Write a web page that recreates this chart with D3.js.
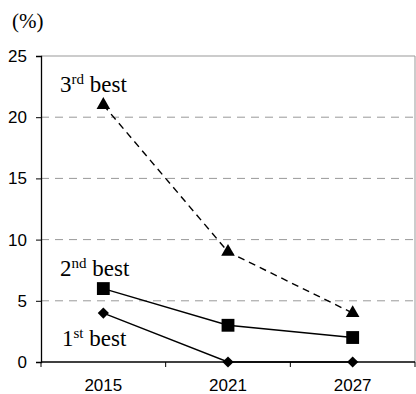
<!DOCTYPE html>
<html>
<head>
<meta charset="utf-8">
<script src="https://cdn.jsdelivr.net/npm/d3@7"></script>
<style>
  html, body { margin: 0; padding: 0; background: #fff; }
  svg { display: block; }
  .serif { font-family: "Liberation Serif", "Times New Roman", Times, serif; }
  .sans { font-family: "Liberation Sans", Arial, Helvetica, sans-serif; }
</style>
</head>
<body>
<svg id="chart" width="416" height="394"></svg>
<script>
// Forecast categories and series (percent)
const years = ["2015", "2021", "2027"];
const firstBest = [4, 0, 0];
const secondBest = [6, 3, 2];
const thirdBest = [21, 9, 4];
const yTicks = [0, 5, 10, 15, 20, 25];

const series = [
  { ord: "1", sup: "st", values: firstBest, symbol: d3.symbolDiamond2, size: 80, dash: null, label: [62, 346] },
  { ord: "2", sup: "nd", values: secondBest, symbol: d3.symbolSquare, size: 165, dash: null, label: [60, 276] },
  { ord: "3", sup: "rd", values: thirdBest, symbol: d3.symbolTriangle, size: 80, dash: "7,5", label: [60, 92] }
];

const svg = d3.select("#chart");
const plotLeft = 41, plotRight = 415, plotTop = 56, plotBottom = 362;

const x = d3.scaleBand().domain(years).range([plotLeft, plotRight]);
const y = d3.scaleLinear().domain([0, 25]).range([plotBottom, plotTop]);

// Unit label
svg.append("text")
  .attr("class", "serif")
  .attr("x", 12).attr("y", 28)
  .style("font-size", "21px")
  .text("(%)");

// Dashed grid lines
svg.append("g")
  .selectAll("line")
  .data(yTicks.filter(v => v > 0 && v < 25))
  .join("line")
  .attr("x1", plotLeft).attr("x2", plotRight)
  .attr("y1", d => y(d)).attr("y2", d => y(d))
  .attr("stroke", "#999").attr("stroke-width", 1)
  .attr("stroke-dasharray", "8,6");

// Top and right frame
svg.append("path")
  .attr("d", `M${plotLeft},${y(25)}H${plotRight}V${plotBottom}`)
  .attr("fill", "none").attr("stroke", "#999").attr("stroke-width", 1);

// Y axis
const yAxis = svg.append("g")
  .attr("transform", `translate(${plotLeft},0)`)
  .call(d3.axisLeft(y).tickValues(yTicks).tickSize(5).tickPadding(9));
yAxis.attr("font-family", null).attr("font-size", null);
yAxis.select(".domain").attr("stroke", "#000").attr("stroke-width", 1.3);
yAxis.selectAll(".tick line").attr("stroke", "#000");
yAxis.selectAll("text")
  .attr("class", "sans")
  .style("font-size", "17px").attr("fill", "#000");

// X axis with ticks at band boundaries
svg.append("line")
  .attr("x1", plotLeft).attr("x2", plotRight)
  .attr("y1", plotBottom).attr("y2", plotBottom)
  .attr("stroke", "#000").attr("stroke-width", 1.3);
const bounds = years.map(d => x(d)).concat([plotRight]);
svg.append("g")
  .selectAll("line")
  .data(bounds)
  .join("line")
  .attr("x1", d => d).attr("x2", d => d)
  .attr("y1", plotBottom).attr("y2", plotBottom + 5)
  .attr("stroke", "#000");
svg.append("g")
  .selectAll("text")
  .data(years)
  .join("text")
  .attr("class", "sans")
  .attr("x", d => x(d) + x.bandwidth() / 2)
  .attr("y", 391)
  .attr("text-anchor", "middle")
  .style("font-size", "17px")
  .text(d => d);

// Lines, markers and series labels
const line = d3.line()
  .x((d, i) => x(years[i]) + x.bandwidth() / 2)
  .y(d => y(d));

series.forEach(s => {
  svg.append("path")
    .datum(s.values)
    .attr("d", line)
    .attr("fill", "none")
    .attr("stroke", "#000")
    .attr("stroke-width", 1.4)
    .attr("stroke-dasharray", s.dash);

  svg.append("g")
    .selectAll("path")
    .data(s.values)
    .join("path")
    .attr("transform", (d, i) => `translate(${x(years[i]) + x.bandwidth() / 2},${y(d)})`)
    .attr("d", d3.symbol(s.symbol, s.size))
    .attr("fill", "#000");

  const t = svg.append("text")
    .attr("class", "serif")
    .attr("x", s.label[0]).attr("y", s.label[1])
    .style("font-size", "23px");
  t.append("tspan").text(s.ord);
  t.append("tspan").style("font-size", "15px").attr("dy", -8).text(s.sup);
  t.append("tspan").attr("dy", 8).text(" best");
});
</script>
</body>
</html>
